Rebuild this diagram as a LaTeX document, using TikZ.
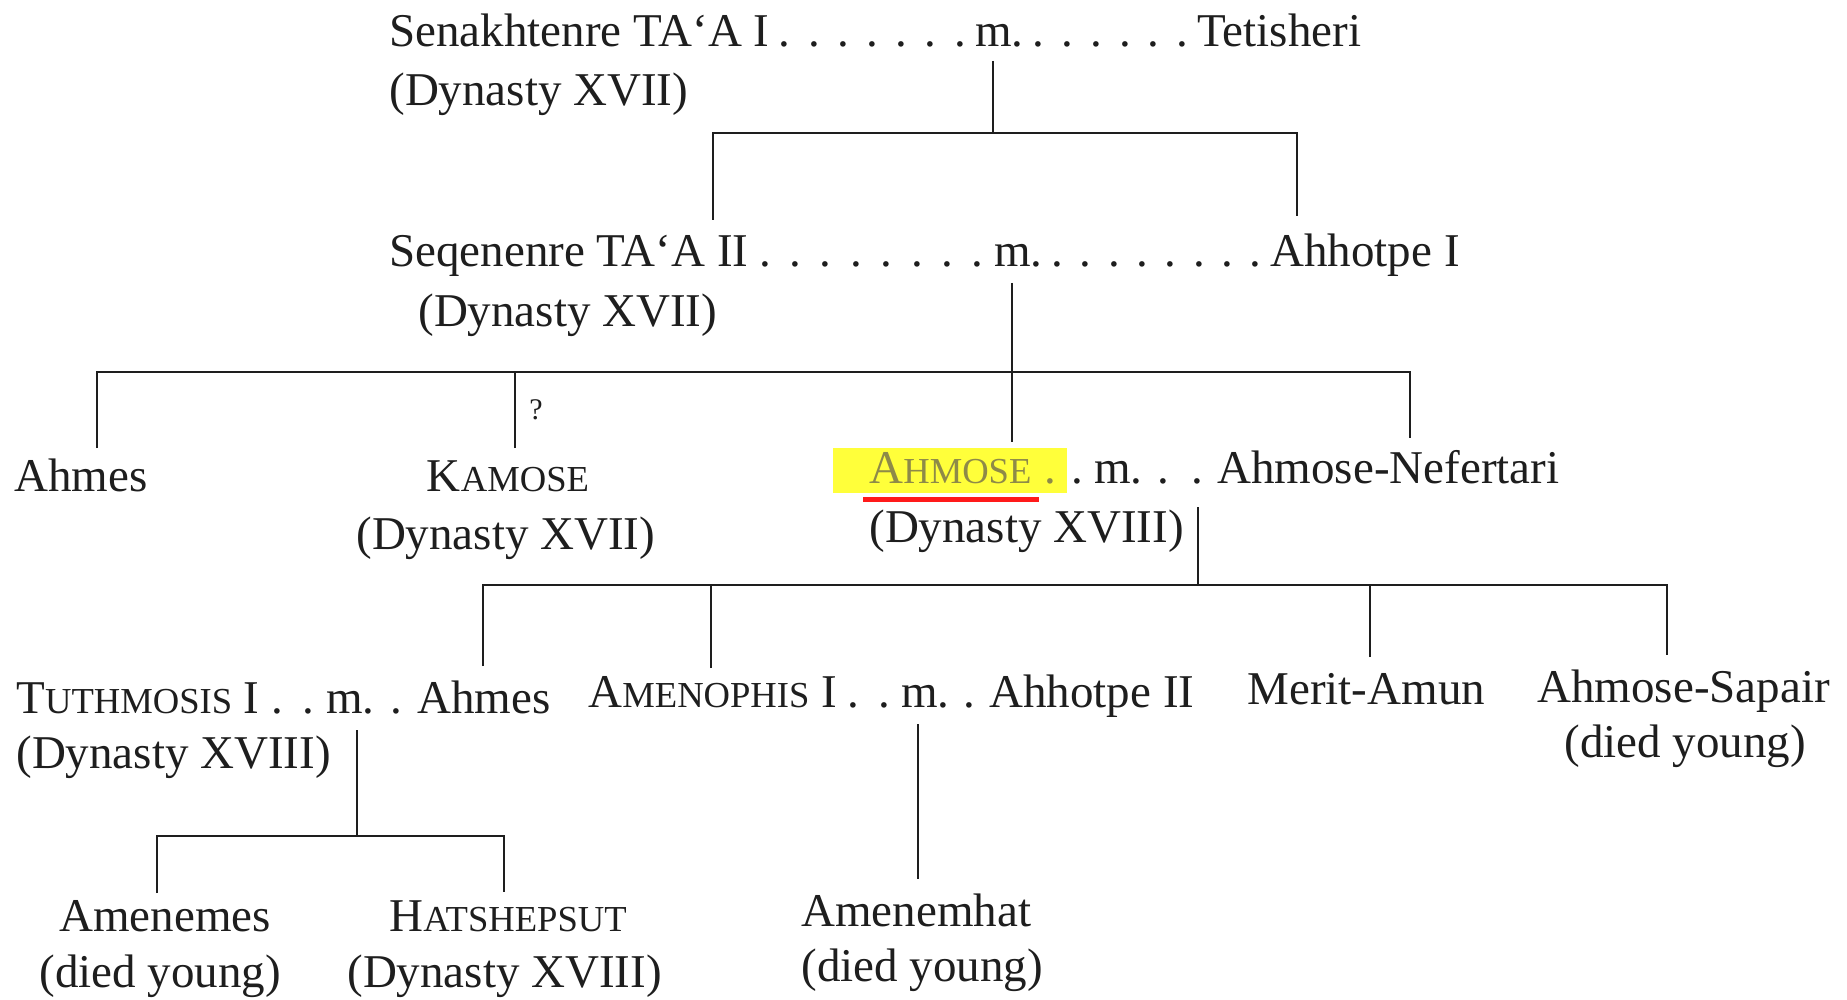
\documentclass[tikz,border=0pt]{standalone}
\usepackage{fontspec}
\setmainfont{Liberation Serif}
\definecolor{ink}{HTML}{1E1E1E}
\definecolor{olivetxt}{HTML}{8E8A48}
\definecolor{hlyellow}{HTML}{FFFF3A}
\definecolor{ulred}{HTML}{FF1A1A}
\newcommand\sm[1]{{\fontsize{18.3}{20}\selectfont #1}}
\newcommand\dotsfill{\xleaders\hbox to 0.59em{\hss.\hss}\hfill}
\newcommand\dotted[2]{\makebox[#1][l]{#2\dotsfill}}
\tikzset{
  txt/.style={font=\fontsize{23.5}{28}\selectfont, inner sep=0pt, text=ink, anchor=base west},
  qmark/.style={font=\fontsize{15}{18}\selectfont, inner sep=0pt, text=ink, anchor=base},
  ln/.style={draw=ink, line width=1.3pt}
}
\begin{document}
\begin{tikzpicture}[x=0.5pt,y=-0.5pt]
\fill[white] (0,0) rectangle (1847,1000);
\useasboundingbox (0,0) rectangle (1847,1000);

% ---- generation 1
\node[txt] (sen) at (389,47) {\dotted{293pt}{Senakhtenre TA‘A I}};
\node[txt] (m1) at (975,47) {\dotted{111pt}{m.}};
\node[txt] (tet) at (1197,47) {Tetisheri};
\node[txt] (sendyn) at (389,106) {(Dynasty XVII)};

% ---- generation 2
\node[txt] (seq) at (389,267) {\dotted{302.5pt}{Seqenenre TA‘A II}};
\node[txt] (m2) at (994,267) {\dotted{138pt}{m.}};
\node[txt] (ahh1) at (1270,267) {Ahhotpe I};
\node[txt] (seqdyn) at (418,327) {(Dynasty XVII)};

% ---- generation 3
\node[txt] (ahmes1) at (14,491) {Ahmes};
\node[txt,anchor=base] (kam) at (508,491) {K\sm{AMOSE}};
\node[txt] (kamdyn) at (356,549) {(Dynasty XVII)};
\node[qmark] (q) at (536,419) {?};

\fill[hlyellow] (833,448) rectangle (1067,493);
\draw[ulred, line width=2.5pt] (863,499.5) -- (1039,499.5);
\node[txt, text=olivetxt] (ahm) at (869,483) {A\sm{HMOSE}};
\node[txt, text=olivetxt, anchor=base] (d1) at (1050,483) {.};
\node[txt, anchor=base] (d2) at (1077,483) {.};
\node[txt] (m3) at (1094,483) {\dotted{61.5pt}{m.}};
\node[txt] (nef) at (1217,483) {Ahmose-Nefertari};
\node[txt] (ahmdyn) at (869,542) {(Dynasty XVIII)};

% ---- generation 4
\node[txt] (tut) at (16,713) {\dotted{155pt}{T\sm{UTHMOSIS} I}};
\node[txt] (m4) at (326,713) {\dotted{45.5pt}{m.}};
\node[txt] (ahmes2) at (417,713) {Ahmes};
\node[txt] (tutdyn) at (16,768) {(Dynasty XVIII)};

\node[txt] (ame) at (588,707) {\dotted{156.5pt}{A\sm{MENOPHIS} I}};
\node[txt] (m5) at (901,707) {\dotted{44pt}{m.}};
\node[txt] (ahh2) at (989,707) {Ahhotpe II};

\node[txt] (mer) at (1247,704) {Merit-Amun};
\node[txt] (sap) at (1537,702) {Ahmose-Sapair};
\node[txt] (sapdy) at (1564,757) {(died young)};

% ---- generation 5
\node[txt] (amenemes) at (59,931) {Amenemes};
\node[txt] (amenemesdy) at (39,987) {(died young)};
\node[txt] (hat) at (389,931) {H\sm{ATSHEPSUT}};
\node[txt] (hatdyn) at (347,987) {(Dynasty XVIII)};
\node[txt] (amh) at (801,926) {Amenemhat};
\node[txt] (amhdy) at (801,981) {(died young)};

% ---- connector points
\coordinate (c1top) at (993,61);
\coordinate (j1) at (993,133);
\coordinate (c1l) at (713,220);
\coordinate (c1r) at (1297,216);

\coordinate (c2top) at (1012,283);
\coordinate (j2) at (1012,372);
\coordinate (c2a) at (97,448);
\coordinate (c2b) at (515,448);
\coordinate (c2c) at (1012,442);
\coordinate (c2d) at (1410,438);

\coordinate (c3top) at (1198,507);
\coordinate (j3) at (1198,585);
\coordinate (c3a) at (483,666);
\coordinate (c3b) at (711,668);
\coordinate (c3c) at (1370,657);
\coordinate (c3d) at (1667,655);

\coordinate (c4top) at (357,730);
\coordinate (j4) at (357,836);
\coordinate (c4a) at (157,893);
\coordinate (c4b) at (504,892);

\coordinate (c5top) at (918,724);
\coordinate (c5bot) at (918,879);

% ---- connectors
\draw[ln] (c1top) -- (j1);
\draw[ln] (c1l) |- (j1) -| (c1r);

\draw[ln] (c2top) -- (c2c);
\draw[ln] (c2a) |- (j2) -| (c2d);
\draw[ln] (c2b) -- (c2b |- j2);

\draw[ln] (c3top) -- (j3);
\draw[ln] (c3a) |- (j3) -| (c3d);
\draw[ln] (c3b) -- (c3b |- j3);
\draw[ln] (c3c) -- (c3c |- j3);

\draw[ln] (c4top) -- (j4);
\draw[ln] (c4a) |- (j4) -| (c4b);

\draw[ln] (c5top) -- (c5bot);
\end{tikzpicture}
\end{document}
